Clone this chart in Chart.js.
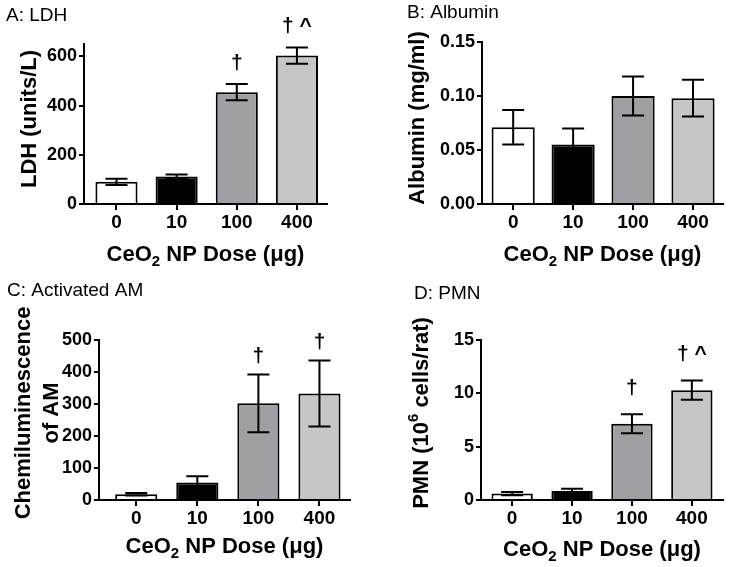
<!DOCTYPE html>
<html><head><meta charset="utf-8">
<script src="https://cdn.jsdelivr.net/npm/chart.js@4.4.1/dist/chart.umd.min.js"></script>
<style>
html,body{margin:0;padding:0;background:#fff;}
#wrap{position:relative;width:729px;height:567px;overflow:hidden;background:#fff;}
canvas{position:absolute;}
</style></head><body>
<div id="wrap">
<canvas id="cA" width="364" height="283" style="left:0;top:0"></canvas>
<canvas id="cB" width="365" height="283" style="left:364px;top:0"></canvas>
<canvas id="cC" width="364" height="284" style="left:0;top:283px"></canvas>
<canvas id="cD" width="365" height="284" style="left:364px;top:283px"></canvas>
</div>
<script>
// ---- data ----
const doses = ['0', '10', '100', '400'];

const ldhMean = [90, 112, 454, 603];
const ldhSem  = [13, 8, 33, 33];
const ldhMarks = ['', '', '†', '† ^'];
const ldhTicks = [0, 200, 400, 600];

const albMean = [0.071, 0.055, 0.100, 0.098];
const albSem  = [0.016, 0.015, 0.018, 0.017];
const albMarks = ['', '', '', ''];
const albTicks = [0, 0.05, 0.10, 0.15];

const amMean = [18, 55, 302, 333];
const amSem  = [4, 19, 90, 103];
const amMarks = ['', '', '†', '†'];
const amTicks = [0, 100, 200, 300, 400, 500];

const pmnMean = [0.6, 0.85, 7.15, 10.3];
const pmnSem  = [0.15, 0.2, 0.9, 0.9];
const pmnMarks = ['', '', '†', '† ^'];
const pmnTicks = [0, 5, 10, 15];

// ---- styles ----
const FAM = '"Liberation Sans", Arial, "DejaVu Sans", sans-serif';
const barColors = ['#ffffff', '#000000', '#a0a0a4', '#c6c6c6'];
const xTitleSegs = [{t: 'CeO'}, {t: '2', sub: true}, {t: ' NP Dose (μg)'}];

const panels = [
  {id: 'cA', W: 364, H: 283, L: 84, R: 327, T: 44, B: 204, xmin: -0.54, xmax: 3.5, ymax: 650,
   means: ldhMean, errs: ldhSem, marks: ldhMarks, yTicks: ldhTicks, dec: 0, barPct: 0.7,
   title: 'A: LDH', titleX: 6, titleY: 16,
   yTitle: [[{t: 'LDH (units/L)'}]], yTitleX: [30], yTitleY: 119, xTitleY: 255, markOffset: 21},
  {id: 'cB', W: 365, H: 283, L: 118, R: 359, T: 42, B: 204, xmin: -0.52, xmax: 3.5, ymax: 0.15,
   means: albMean, errs: albSem, marks: albMarks, yTicks: albTicks, dec: 2, barPct: 0.72,
   title: 'B: Albumin', titleX: 43, titleY: 13,
   yTitle: [[{t: 'Albumin (mg/ml)'}]], yTitleX: [54], yTitleY: 118, xTitleY: 255, markOffset: 21},
  {id: 'cC', W: 364, H: 284, L: 99, R: 350, T: 57, B: 217, xmin: -0.61, xmax: 3.5, ymax: 500,
   means: amMean, errs: amSem, marks: amMarks, yTicks: amTicks, dec: 0, barPct: 0.69,
   title: 'C: Activated AM', titleX: 7, titleY: 8,
   yTitle: [[{t: 'Chemiluminescence'}], [{t: 'of AM'}]], yTitleX: [24, 52], yTitleY: 130, xTitleY: 264, markOffset: 18},
  {id: 'cD', W: 365, H: 284, L: 117, R: 359, T: 57, B: 217, xmin: -0.52, xmax: 3.52, ymax: 15,
   means: pmnMean, errs: pmnSem, marks: pmnMarks, yTicks: pmnTicks, dec: 0, barPct: 0.69,
   title: 'D: PMN', titleX: 50, titleY: 11,
   yTitle: [[{t: 'PMN (10'}, {t: '6', sup: true}, {t: ' cells/rat)'}]], yTitleX: [58], yTitleY: 130, xTitleY: 267, markOffset: 26}
];

function drawRich(ctx, segs, x, y, size, rot) {
  ctx.save();
  ctx.translate(x, y);
  ctx.rotate(rot);
  const fMain = 'bold ' + size + 'px ' + FAM;
  const fSmall = 'bold ' + Math.round(size * 0.66) + 'px ' + FAM;
  let total = 0;
  const ws = segs.map(s => {
    ctx.font = (s.sub || s.sup) ? fSmall : fMain;
    const w = ctx.measureText(s.t).width;
    total += w;
    return w;
  });
  let cx = -total / 2;
  ctx.textAlign = 'left';
  ctx.textBaseline = 'middle';
  ctx.fillStyle = '#000';
  segs.forEach((s, i) => {
    ctx.font = (s.sub || s.sup) ? fSmall : fMain;
    const dy = s.sub ? size * 0.32 : (s.sup ? -size * 0.36 : 0);
    ctx.fillText(s.t, cx, dy);
    cx += ws[i];
  });
  ctx.restore();
}

panels.forEach((p, k) => {
  const extras = {
    id: 'extras' + k,
    afterDatasetsDraw(chart) {
      const ctx = chart.ctx;
      const xs = chart.scales.x, ys = chart.scales.y;
      ctx.save();
      ctx.strokeStyle = '#000';
      ctx.lineWidth = 2;
      p.means.forEach((m, i) => {
        const x = xs.getPixelForValue(i);
        const yt = ys.getPixelForValue(m + p.errs[i]);
        const yb = ys.getPixelForValue(Math.max(0, m - p.errs[i]));
        ctx.beginPath();
        ctx.moveTo(x, yt); ctx.lineTo(x, yb);
        ctx.moveTo(x - 11, yt); ctx.lineTo(x + 11, yt);
        ctx.moveTo(x - 11, yb); ctx.lineTo(x + 11, yb);
        ctx.stroke();
        if (p.marks[i]) {
          ctx.fillStyle = '#000';
          ctx.font = 'bold 21px ' + FAM;
          ctx.textAlign = 'center';
          ctx.textBaseline = 'middle';
          ctx.fillText(p.marks[i], x, yt - p.markOffset);
        }
      });
      ctx.restore();
    },
    afterDraw(chart) {
      const ctx = chart.ctx;
      const ca = chart.chartArea;
      ctx.save();
      ctx.fillStyle = '#000';
      ctx.font = '19px ' + FAM;
      ctx.textAlign = 'left';
      ctx.textBaseline = 'middle';
      ctx.fillText(p.title, p.titleX, p.titleY);
      ctx.restore();
      drawRich(ctx, xTitleSegs, (ca.left + ca.right) / 2, p.xTitleY, 22, 0);
      p.yTitle.forEach((line, j) => drawRich(ctx, line, p.yTitleX[j], p.yTitleY, 22, -Math.PI / 2));
    }
  };
  const xTickFont = {family: FAM, size: 19, weight: 'bold'};
  const yTickFont = {family: FAM, size: 18, weight: 'bold'};
  new Chart(document.getElementById(p.id), {
    type: 'bar',
    data: {datasets: [{
      data: p.means.map((m, i) => ({x: i, y: m})),
      backgroundColor: barColors,
      borderColor: '#000',
      borderWidth: 2,
      borderSkipped: 'start',
      barPercentage: p.barPct,
      categoryPercentage: 1
    }]},
    options: {
      responsive: false, animation: false, devicePixelRatio: 1,
      layout: {padding: {top: p.T, right: p.W - p.R, left: 0, bottom: 0}},
      plugins: {legend: {display: false}, tooltip: {enabled: false}, title: {display: false}},
      scales: {
        x: {
          type: 'linear', offset: false, min: p.xmin, max: p.xmax,
          afterBuildTicks: s => { s.ticks = doses.map((d, i) => ({value: i})); },
          afterFit: s => { s.height = p.H - p.B; },
          ticks: {callback: v => doses[v], font: xTickFont, color: '#000', padding: 1, maxRotation: 0, autoSkip: false},
          grid: {display: true, drawOnChartArea: false, drawTicks: true, tickLength: 6, color: '#000', lineWidth: 2, offset: false},
          border: {display: true, color: '#000', width: 2, z: 1}
        },
        y: {
          min: 0, max: p.ymax,
          afterBuildTicks: s => { s.ticks = p.yTicks.map(v => ({value: v})); },
          afterFit: s => { s.width = p.L; },
          ticks: {callback: v => Number(v).toFixed(p.dec), font: yTickFont, color: '#000', padding: 2},
          grid: {display: true, drawOnChartArea: false, drawTicks: true, tickLength: 5, color: '#000', lineWidth: 2},
          border: {display: true, color: '#000', width: 2, z: 1}
        }
      }
    },
    plugins: [extras]
  });
});
</script>
</body></html>
